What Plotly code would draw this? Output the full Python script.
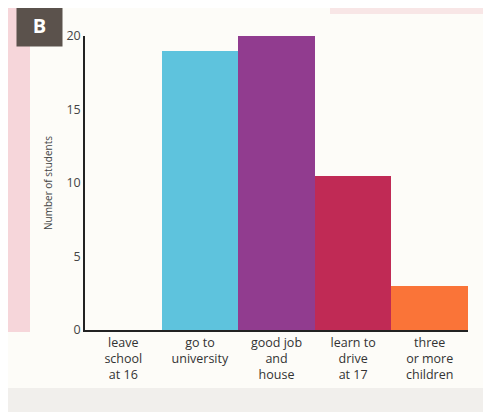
import plotly.graph_objects as go

categories = ["leave<br>school<br>at 16", "go to<br>university", "good job<br>and<br>house",
              "learn to<br>drive<br>at 17", "three<br>or more<br>children"]
students = [0, 19, 20, 10.5, 3]
bar_colors = ["#FFFFFF", "#5EC3DD", "#913C8F", "#C02A55", "#FA7438"]
y_ticks = [0, 5, 10, 15, 20]

# page has an 8px body margin; figure is sized to fit the window
OFF = 8
W, H = 491 - OFF, 412 - OFF
L, R, T, B = 77, 23, 28, 82
pw, ph = W - L - R, H - T - B

def px(x):  # page pixel -> paper x
    return (x - OFF - L) / pw

def py(y):  # page pixel -> paper y
    return (H - B - (y - OFF)) / ph

fig = go.Figure()
fig.add_trace(go.Bar(
    x=categories, y=students,
    marker=dict(color=bar_colors, line=dict(width=0)),
    showlegend=False, hoverinfo="skip",
))

# photo backdrop: pink page strip on the left, faint pink band top right, grey bottom edge
fig.add_shape(type="rect", xref="paper", yref="paper",
              x0=px(OFF), x1=px(30), y0=py(332), y1=py(OFF),
              fillcolor="#F6D6DA", line=dict(width=0), layer="below")
fig.add_shape(type="rect", xref="paper", yref="paper",
              x0=px(330), x1=px(491), y0=py(14), y1=py(OFF),
              fillcolor="#F8E6E6", line=dict(width=0), layer="below")
fig.add_shape(type="rect", xref="paper", yref="paper",
              x0=px(OFF), x1=px(491), y0=py(412), y1=py(388),
              fillcolor="#F1EFEC", line=dict(width=0), layer="below")

fig.add_annotation(xref="paper", yref="paper", x=px(39.5), y=py(25),
                   text="<b>B</b>", showarrow=False,
                   font=dict(family="Open Sans", size=20, color="white"),
                   bgcolor="#5B524C", width=43, height=40,
                   xanchor="center", yanchor="middle")

fig.update_layout(
    width=W, height=H,
    margin=dict(l=L, r=R, t=T, b=B),
    paper_bgcolor="#FDFCF8", plot_bgcolor="#FDFCF8",
    bargap=0,
    font=dict(family="Open Sans", color="#3A3A3A"),
    xaxis=dict(showline=True, linecolor="#222", linewidth=1.5, showgrid=False,
               ticks="", tickfont=dict(size=12.5, color="#333"), fixedrange=True),
    yaxis=dict(range=[0, 20], showline=True, linecolor="#222", linewidth=1.5,
               showgrid=False, zeroline=False, ticks="", tickvals=y_ticks,
               tickfont=dict(size=12.5, color="#444"), automargin=False,
               title=dict(text="Number of students", font=dict(size=10, color="#444"),
                          standoff=12)),
)

fig.write_html("out.html")
